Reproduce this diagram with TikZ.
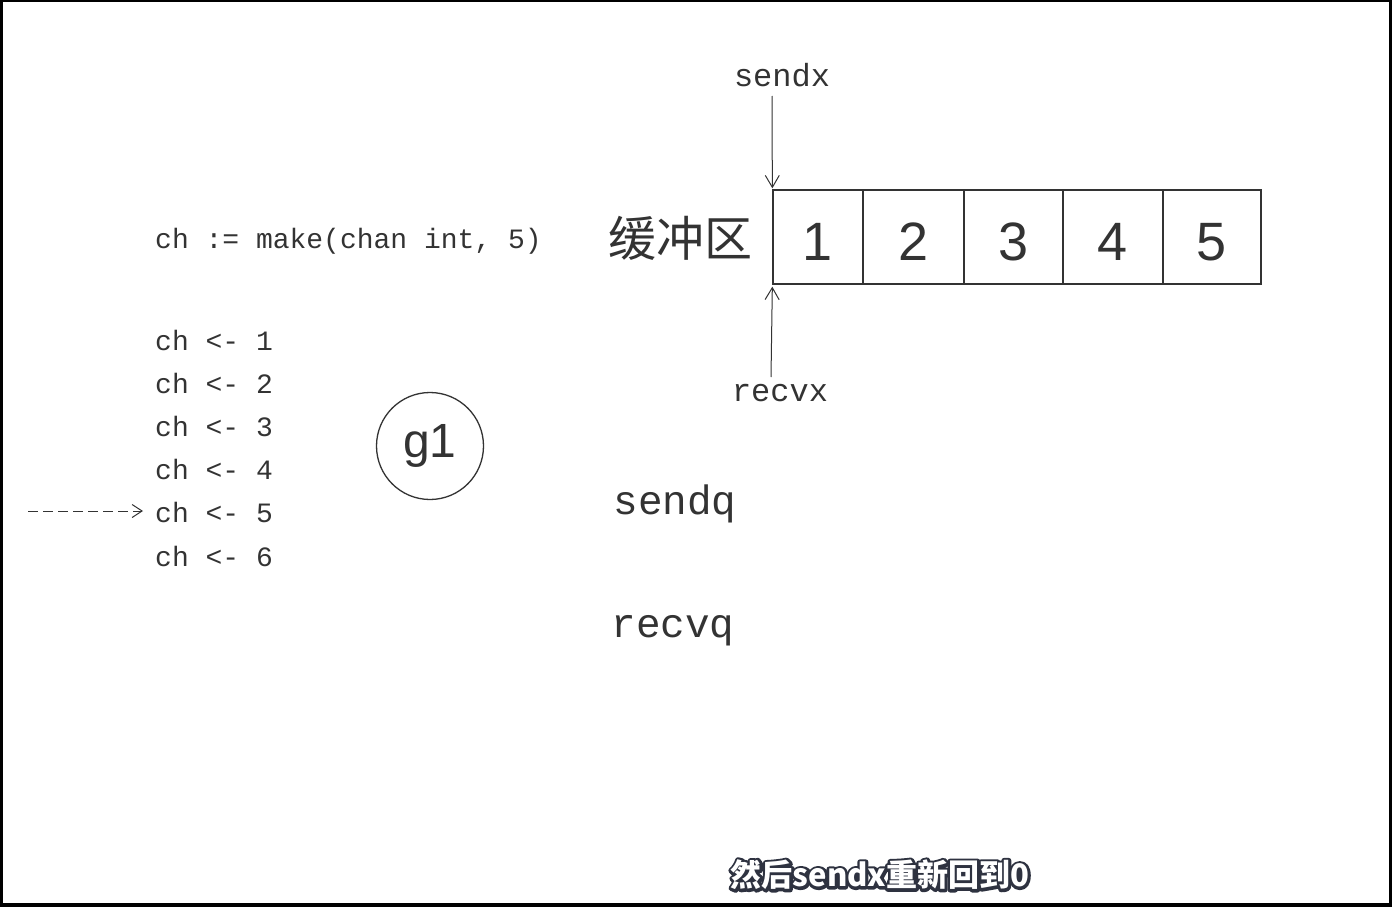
\documentclass[tikz,border=0pt]{standalone}
\usepackage{fontspec}
\setmainfont{Liberation Sans}
\newfontfamily\monof{Liberation Mono}
\newfontfamily\cjkf{Noto Sans CJK SC}
\newfontfamily\subedgef[FakeBold=18, BoldFeatures={FakeBold=18}]{Noto Sans CJK SC}
\usetikzlibrary{arrows.meta,calc}
\definecolor{ink}{HTML}{333333}
\definecolor{subedge}{HTML}{2E3240}
\tikzset{
  txt/.style={inner sep=0pt, text=ink},
  code/.style={txt, anchor=base west, font=\monof\fontsize{28}{28}\selectfont},
  lbl/.style={txt, font=\monof\fontsize{32}{32}\selectfont},
  qlbl/.style={txt, font=\monof\fontsize{41}{41}\selectfont},
  cell/.style={draw=ink, line width=1.3pt, inner sep=0pt, minimum height=94pt},
  digit/.style={txt, font=\fontsize{54}{54}\selectfont},
  ptr/.style={draw=ink, line width=1pt, -{Straight Barb[length=12pt,width=14pt]}},
  subout/.style={inner sep=0pt, text=subedge, font=\subedgef\bfseries\fontsize{31}{31}\selectfont},
  subin/.style={inner sep=0pt, text=white, font=\cjkf\bfseries\fontsize{31}{31}\selectfont},
}
\begin{document}
\begin{tikzpicture}[x=1pt,y=-1pt]
\useasboundingbox (0,0) rectangle (1392,907);
\fill[white] (0,0) rectangle (1392,907);
% frame
\fill[black] (0,0) rectangle (1392,2);
\fill[black] (0,0) rectangle (3,907);
\fill[black] (1389,0) rectangle (1392,907);
\fill[black] (0,903) rectangle (1392,907);

% code lines
\node[code] (mk) at (155,248) {ch := make(chan int, 5)};
\foreach \i in {1,...,6}{
  \node[code] (l\i) at (155,{350+43.2*(\i-1)}) {ch <- \i};
}
\coordinate (dstart) at (28,511);
\draw[ink, line width=1pt, dash pattern=on 10pt off 5pt, shorten >=12pt,
      -{Straight Barb[length=10pt,width=13pt]}] (dstart) -- (dstart -| l5.west);

% goroutine
\node[draw=ink, line width=1.3pt, circle, minimum size=107pt, inner sep=0pt,
      font=\fontsize{48}{48}\selectfont, text=ink] (g1) at (430,446) {g1};

% buffer
\node[txt, font=\cjkf\fontsize{48}{48}\selectfont] (buf) at (680,238) {缓冲区};
\node[cell, minimum width=90pt,  label={[digit, yshift=-5pt]center:1}] (c1) at (818,237) {};
\node[cell, minimum width=101pt, label={[digit, yshift=-5pt]center:2}] (c2) at (913.5,237) {};
\node[cell, minimum width=99pt,  label={[digit, yshift=-5pt]center:3}] (c3) at (1013.5,237) {};
\node[cell, minimum width=100pt, label={[digit, yshift=-5pt]center:4}] (c4) at (1113,237) {};
\node[cell, minimum width=98pt,  label={[digit, yshift=-5pt]center:5}] (c5) at (1212,237) {};

% pointers
\node[lbl] (sendx) at (782,75) {sendx};
\node[lbl] (recvx) at (780,393) {recvx};
\coordinate (sxs) at (772,96);
\coordinate (rxs) at (771,377);
\draw[ptr, shorten >=1pt] (sxs) -- (c1.north west);
\draw[ptr, shorten >=2pt] (rxs) -- (c1.south west);

% queues
\node[qlbl] (sendq) at (675,504) {sendq};
\node[qlbl] (recvq) at (673,631) {recvq};

% subtitle
\node[subout] (subo) at (880,875) {\special{pdf:literal direct 1 j}然后sendx重新回到0};
\node[subin] (sub) at (880,875) {然后sendx重新回到0};
\end{tikzpicture}
\end{document}
